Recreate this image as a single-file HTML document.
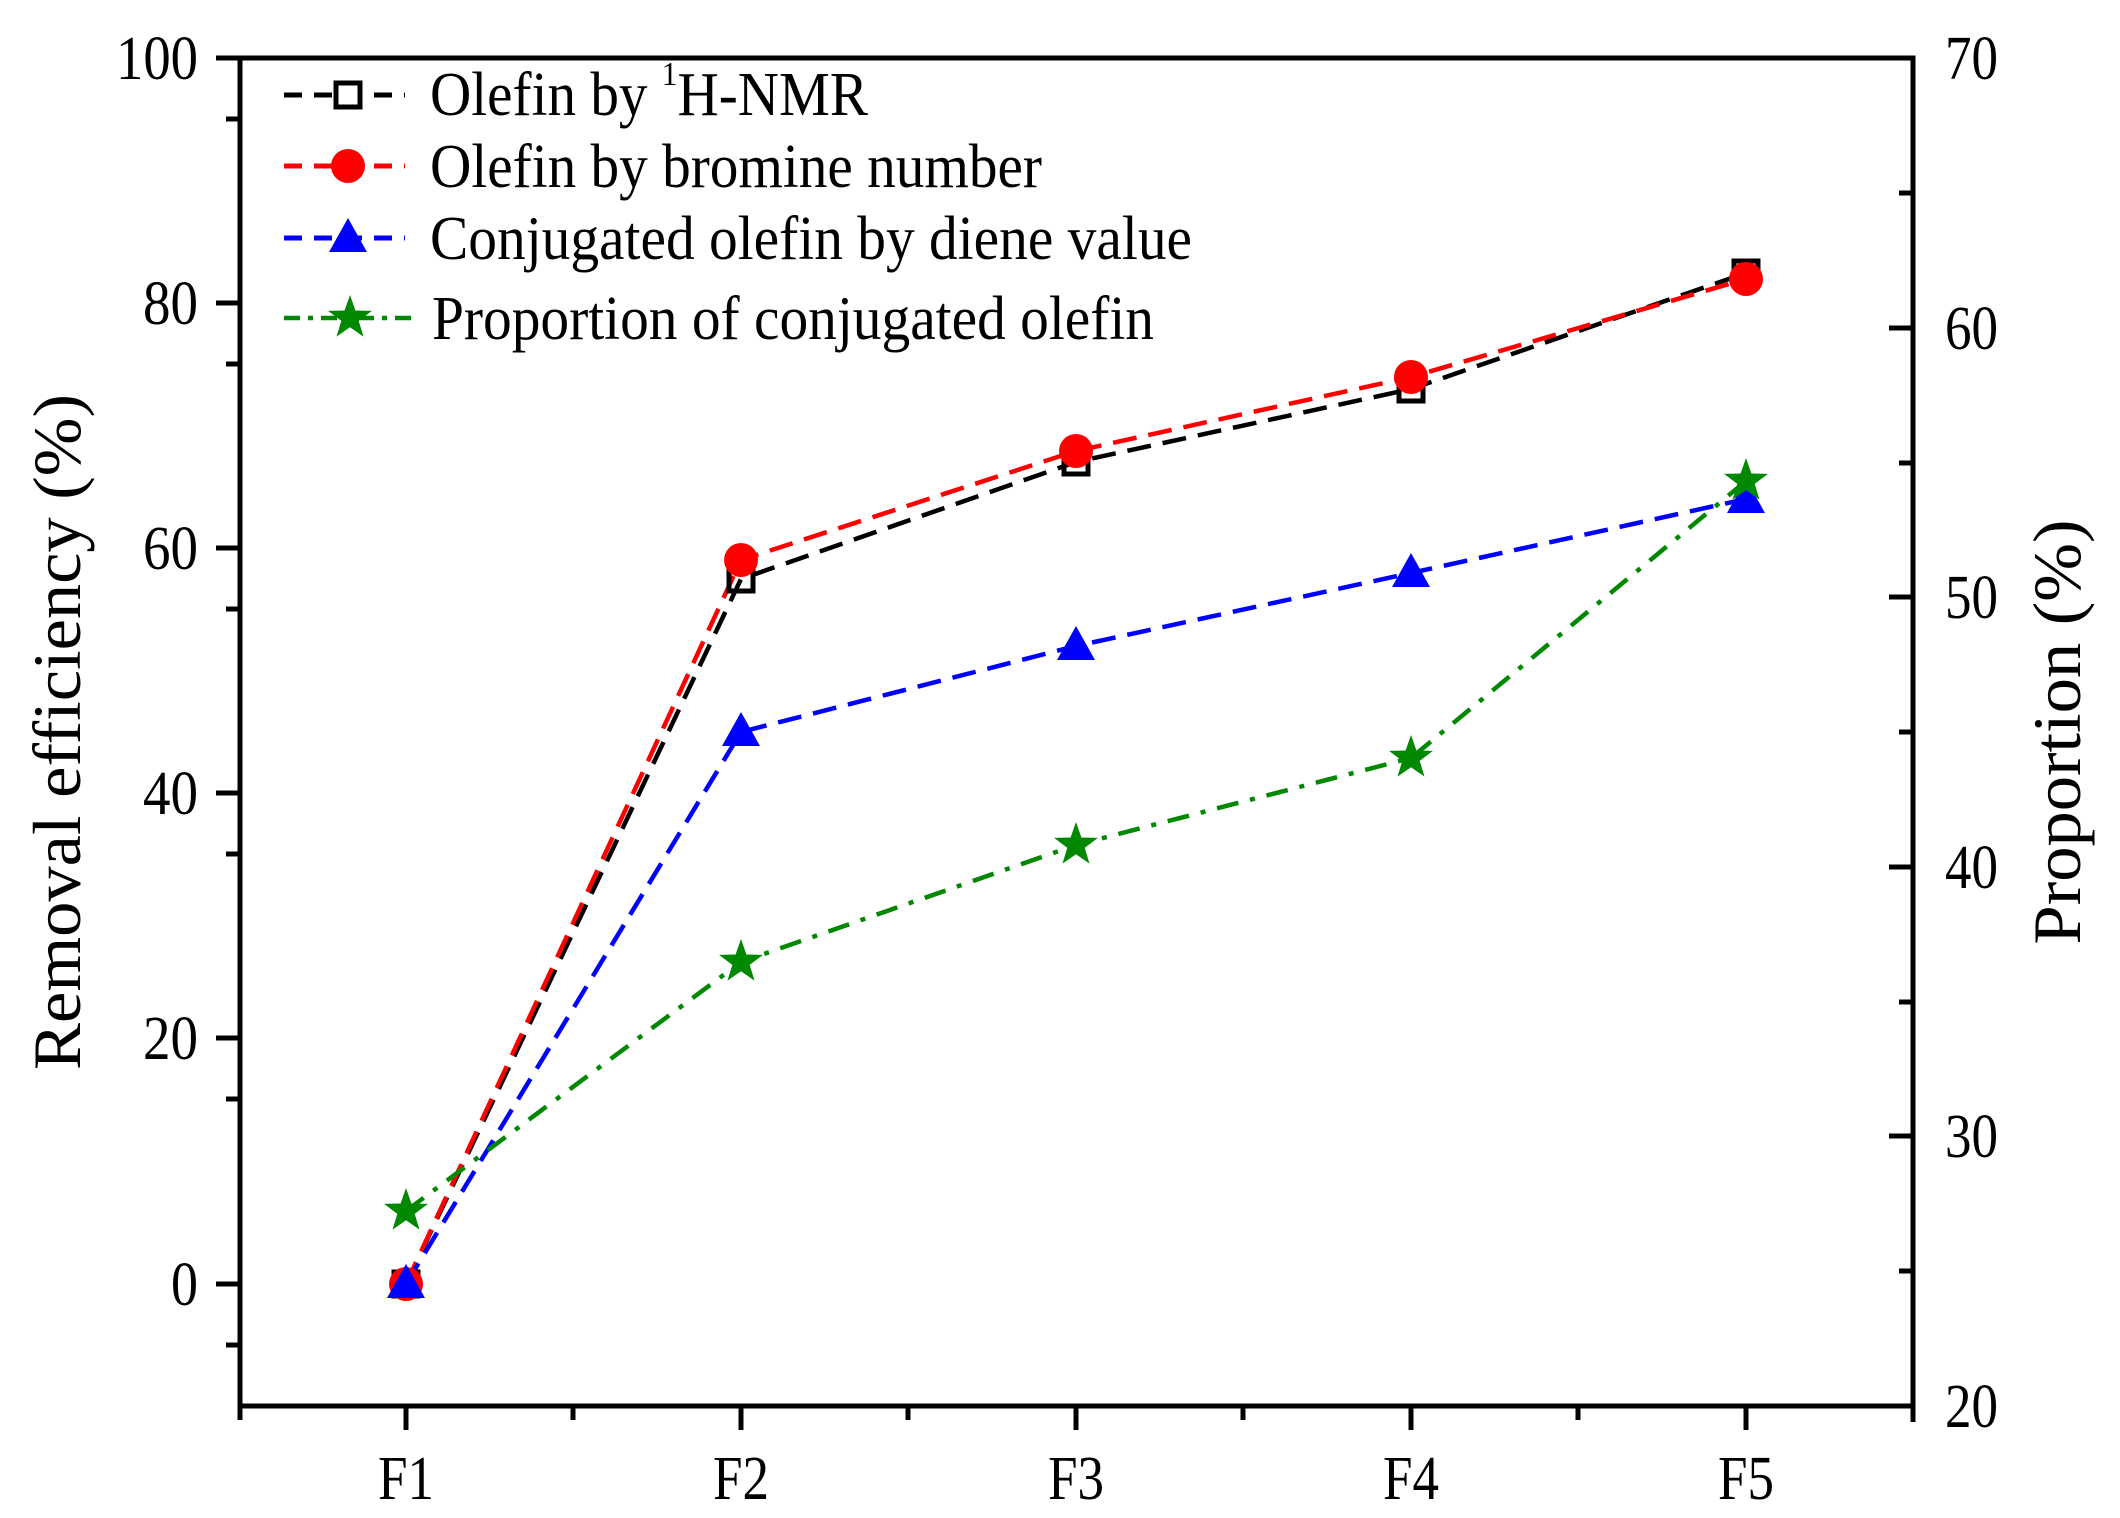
<!DOCTYPE html>
<html><head><meta charset="utf-8"><style>
html,body{margin:0;padding:0;background:#fff;}
svg{display:block;font-family:"Liberation Serif",serif;}
</style></head><body>
<svg width="2120" height="1518" viewBox="0 0 2120 1518" xmlns="http://www.w3.org/2000/svg">
<rect width="2120" height="1518" fill="#fff"/>
<rect x="240" y="58" width="1673" height="1348" fill="none" stroke="#000" stroke-width="5"/>
<g stroke="#000" stroke-width="5">
<line x1="216" y1="58" x2="240" y2="58"/><line x1="226" y1="119" x2="240" y2="119"/>
<line x1="216" y1="303" x2="240" y2="303"/><line x1="226" y1="364" x2="240" y2="364"/>
<line x1="216" y1="548" x2="240" y2="548"/><line x1="226" y1="609" x2="240" y2="609"/>
<line x1="216" y1="793" x2="240" y2="793"/><line x1="226" y1="854" x2="240" y2="854"/>
<line x1="216" y1="1038" x2="240" y2="1038"/><line x1="226" y1="1099" x2="240" y2="1099"/>
<line x1="216" y1="1284" x2="240" y2="1284"/><line x1="226" y1="1345" x2="240" y2="1345"/>
<line x1="1889" y1="328" x2="1913" y2="328"/><line x1="1899" y1="193" x2="1913" y2="193"/>
<line x1="1889" y1="597" x2="1913" y2="597"/><line x1="1899" y1="463" x2="1913" y2="463"/>
<line x1="1889" y1="867" x2="1913" y2="867"/><line x1="1899" y1="732" x2="1913" y2="732"/>
<line x1="1889" y1="1136" x2="1913" y2="1136"/><line x1="1899" y1="1002" x2="1913" y2="1002"/>
<line x1="1899" y1="1271" x2="1913" y2="1271"/>
<line x1="406" y1="1406" x2="406" y2="1430"/><line x1="741" y1="1406" x2="741" y2="1430"/>
<line x1="1076" y1="1406" x2="1076" y2="1430"/><line x1="1411" y1="1406" x2="1411" y2="1430"/>
<line x1="1746" y1="1406" x2="1746" y2="1430"/>
<line x1="240" y1="1406" x2="240" y2="1420"/><line x1="573" y1="1406" x2="573" y2="1420"/>
<line x1="908" y1="1406" x2="908" y2="1420"/><line x1="1243" y1="1406" x2="1243" y2="1420"/>
<line x1="1578" y1="1406" x2="1578" y2="1420"/><line x1="1913" y1="1406" x2="1913" y2="1422"/>
</g>
<g font-size="62" text-anchor="end" fill="#000" lengthAdjust="spacingAndGlyphs">
<text x="198" y="79" textLength="82" lengthAdjust="spacingAndGlyphs">100</text>
<text x="198" y="324" textLength="55" lengthAdjust="spacingAndGlyphs">80</text>
<text x="198" y="569" textLength="55" lengthAdjust="spacingAndGlyphs">60</text>
<text x="198" y="814" textLength="55" lengthAdjust="spacingAndGlyphs">40</text>
<text x="198" y="1059" textLength="55" lengthAdjust="spacingAndGlyphs">20</text>
<text x="198" y="1305" textLength="27" lengthAdjust="spacingAndGlyphs">0</text>
</g>
<g font-size="62" fill="#000">
<text x="1945" y="79" textLength="53" lengthAdjust="spacingAndGlyphs">70</text>
<text x="1945" y="349" textLength="53" lengthAdjust="spacingAndGlyphs">60</text>
<text x="1945" y="618" textLength="53" lengthAdjust="spacingAndGlyphs">50</text>
<text x="1945" y="888" textLength="53" lengthAdjust="spacingAndGlyphs">40</text>
<text x="1945" y="1157" textLength="53" lengthAdjust="spacingAndGlyphs">30</text>
<text x="1945" y="1427" textLength="53" lengthAdjust="spacingAndGlyphs">20</text>
</g>
<g font-size="62" text-anchor="middle" fill="#000">
<text x="406" y="1499" textLength="56" lengthAdjust="spacingAndGlyphs">F1</text>
<text x="741" y="1499" textLength="56" lengthAdjust="spacingAndGlyphs">F2</text>
<text x="1076" y="1499" textLength="56" lengthAdjust="spacingAndGlyphs">F3</text>
<text x="1411" y="1499" textLength="56" lengthAdjust="spacingAndGlyphs">F4</text>
<text x="1746" y="1499" textLength="56" lengthAdjust="spacingAndGlyphs">F5</text>
</g>
<text transform="translate(80,732) rotate(-90)" font-size="68" text-anchor="middle" textLength="676" lengthAdjust="spacingAndGlyphs">Removal efficiency (%)</text>
<text transform="translate(2080,732) rotate(-90)" font-size="68" text-anchor="middle" textLength="425" lengthAdjust="spacingAndGlyphs">Proportion (%)</text>
<g fill="none" stroke-width="4.5">
<polyline stroke="#000" stroke-dasharray="24,12" points="406,1284 741,579 1076,462 1411,389 1746,273"/>
<polyline stroke="#f00" stroke-dasharray="24,12" points="406,1284 741,560 1076,451 1411,377 1746,279"/>
<polyline stroke="#00f" stroke-dasharray="24,12" points="406,1284 741,732 1076,646 1411,573 1746,499"/>
<polyline stroke="#080" stroke-dasharray="22,12,5,12" points="406,1211 741,962 1076,845 1411,758 1746,481"/>
</g>
<g fill="none" stroke="#000" stroke-width="5">
<rect x="394" y="1272" width="24" height="24"/><rect x="729" y="567" width="24" height="24"/>
<rect x="1064" y="450" width="24" height="24"/><rect x="1399" y="377" width="24" height="24"/>
<rect x="1734" y="261" width="24" height="24"/>
</g>
<g fill="#f00">
<circle cx="406" cy="1284" r="17"/><circle cx="741" cy="560" r="17"/><circle cx="1076" cy="451" r="17"/>
<circle cx="1411" cy="377" r="17"/><circle cx="1746" cy="279" r="17"/>
</g>
<g fill="#00f">
<polygon points="406,1264 425,1298 387,1298"/><polygon points="741,712 760,746 722,746"/>
<polygon points="1076,626 1095,660 1057,660"/><polygon points="1411,553 1430,587 1392,587"/>
<polygon points="1746,479 1765,513 1727,513"/>
</g>
<defs><polygon id="st" points="0,-23 5.4,-7.5 21.9,-7.1 8.7,2.9 13.5,18.6 0,9.2 -13.5,18.6 -8.7,2.9 -21.9,-7.1 -5.4,-7.5" fill="#080"/></defs>
<use href="#st" x="406" y="1211"/><use href="#st" x="741" y="962"/><use href="#st" x="1076" y="845"/>
<use href="#st" x="1411" y="758"/><use href="#st" x="1746" y="481"/>
<g stroke-width="5" fill="none">
<line x1="284" y1="95" x2="405" y2="95" stroke="#000" stroke-dasharray="18,12"/>
<line x1="284" y1="166" x2="405" y2="166" stroke="#f00" stroke-dasharray="18,12"/>
<line x1="284" y1="238" x2="405" y2="238" stroke="#00f" stroke-dasharray="18,12"/>
<line x1="284" y1="318" x2="412" y2="318" stroke="#080" stroke-width="4.5" stroke-dasharray="16,8,5,8"/>
</g>
<rect x="336" y="83" width="24" height="24" fill="#fff" stroke="#000" stroke-width="5"/>
<circle cx="348" cy="166" r="17" fill="#f00"/>
<polygon points="348,218 367,252 329,252" fill="#00f"/>
<use href="#st" x="350" y="318"/>
<g font-size="62" fill="#000">
<text x="430" y="115" textLength="438" lengthAdjust="spacingAndGlyphs">Olefin by <tspan font-size="34" dy="-30">1</tspan><tspan dy="30">H-NMR</tspan></text>
<text x="430" y="187" textLength="612" lengthAdjust="spacingAndGlyphs">Olefin by bromine number</text>
<text x="430" y="259" textLength="762" lengthAdjust="spacingAndGlyphs">Conjugated olefin by diene value</text>
<text x="432" y="339" textLength="722" lengthAdjust="spacingAndGlyphs">Proportion of conjugated olefin</text>
</g>
</svg>
</body></html>
